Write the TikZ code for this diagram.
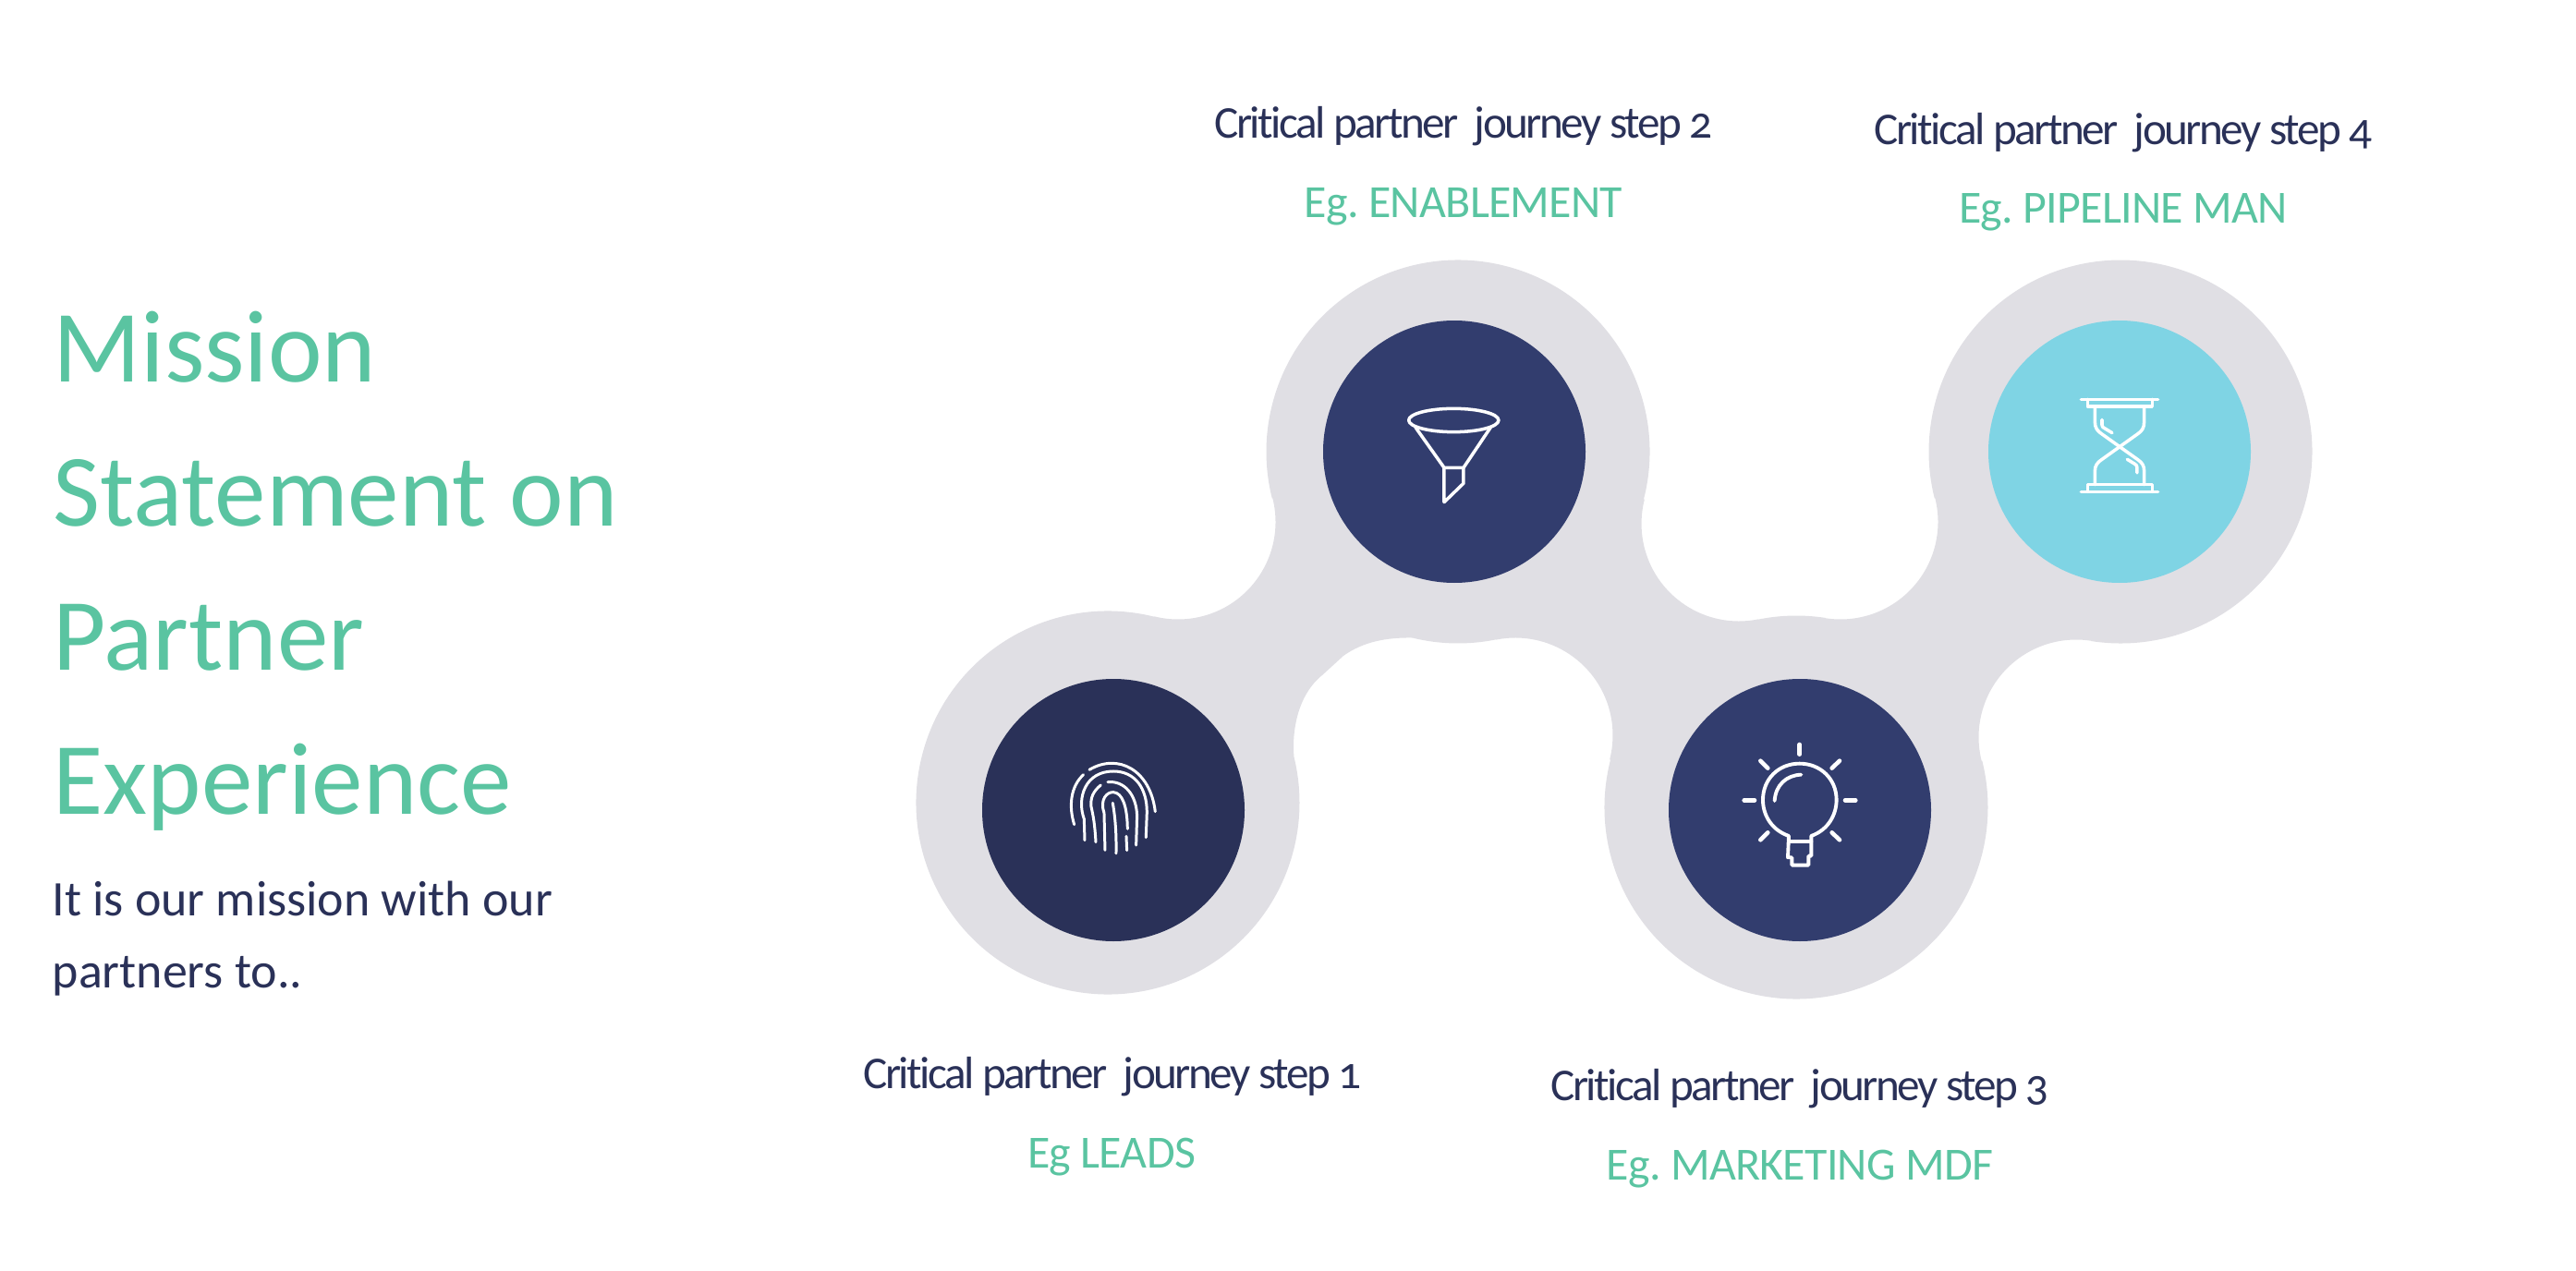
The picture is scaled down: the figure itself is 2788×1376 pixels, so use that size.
\documentclass[tikz,border=0pt]{standalone}
\usepackage{fontspec}
\setmainfont{Carlito}[Numbers=OldStyle,Ligatures=NoCommon]
\newfontfamily\headfont{Carlito}[Numbers=OldStyle,Ligatures=NoCommon,LetterSpace=-5.1]
\newfontfamily\egfont{Carlito}[Numbers=OldStyle,Ligatures=NoCommon,LetterSpace=-1.5]
\definecolor{blob}{HTML}{E0DFE4}
\definecolor{navyA}{HTML}{2A3158}
\definecolor{navyB}{HTML}{323D6E}
\definecolor{skyC}{HTML}{7FD4E4}
\definecolor{greenT}{HTML}{5AC4A1}
\definecolor{inkT}{HTML}{2A3158}
\newcommand{\seg}[4]{-- ([shift={(#2:#4)}]#1) arc[start angle=#2,end angle=#3,radius=#4]}
\tikzset{
  disc/.style={circle,minimum size=28.4mm,inner sep=0pt,draw=none},
  icon/.style={draw=white,line width=1pt,line cap=round,line join=round},
  icona/.style={icon,line width=0.85pt},
  iconb/.style={icon,line width=1.1pt},
  iconr/.style={icon,line width=1.3pt},
  iconscale/.style={x=0.03333mm,y=-0.03333mm},
  ttl/.style={anchor=base west,inner sep=0pt,text=greenT,font=\fontsize{31.6}{38}\selectfont},
  sub/.style={anchor=base west,inner sep=0pt,text=inkT,font=\fontsize{15.35}{19}\selectfont},
  head/.style={anchor=base,inner sep=0pt,text=inkT,font=\headfont\fontsize{14}{18}\selectfont},
  eg/.style={anchor=base,inner sep=0pt,text=greenT,font=\egfont\fontsize{14.2}{18}\selectfont},
}
\begin{document}
\frenchspacing
\begin{tikzpicture}[x=0.1mm,y=0.1mm]
\useasboundingbox (0,0) rectangle (2788,-1376);
\coordinate (c1) at (1199,-869);
\coordinate (c2) at (1578,-489);
\coordinate (c3) at (1944,-874);
\coordinate (c4) at (2295,-489);
\coordinate (fa) at (1275,-565);
\coordinate (fr) at (1640,-796);
\coordinate (fd) at (2247,-798);
\coordinate (fe) at (1992,-565);
\coordinate (ff) at (1882,-567);
\fill[blob] ([shift={(76:207.5)}]c1) arc[start angle=76,end angle=373.86,radius=207.5]
  .. controls (1398,-790) and (1405,-752) .. (1431,-731) -- (1454,-710)
  .. controls (1475,-695) and (1500,-690) .. (1528.4,-690.5)
  \seg{c2}{256.18}{281.4}{207.5}
  \seg{fr}{101.4}{-14.4}{105.5}
  \seg{c3}{165.6}{374.08}{207.5}
  \seg{fd}{194.08}{81.17}{105.5}
  \seg{c4}{261.17}{554.08}{207.5}
  \seg{fe}{14.08}{-98.83}{105.5}
  \seg{c3}{81.17}{101.42}{207.5}
  \seg{ff}{281.42}{165.6}{105.5}
  \seg{c2}{-14.4}{194.1}{207.5}
  \seg{fa}{14.1}{-104}{105.5}
  -- cycle;
\node[disc,fill=navyA] (d1) at (1205,-877) {};
\node[disc,fill=navyB] (d2) at (1574,-489) {};
\node[disc,fill=navyB] (d3) at (1948,-877) {};
\node[disc,fill=skyC] (d4) at (2294,-489) {};

% fingerprint: crop origin (1100,780), scale 3
\begin{scope}[shift={(1100,-780)},iconscale]
\draw[icona] (188,338) .. controls (170,280) and (175,215) .. (218,176);
\draw[icona] (237,160) .. controls (330,105) and (435,160) .. (451,296);
\draw[icona] (222,389) -- (220,320) .. controls (195,250) and (225,165) .. (315,165) .. controls (385,165) and (425,220) .. (424,300) -- (421,380);
\draw[icona] (258,395) .. controls (255,340) and (250,310) .. (243,280) .. controls (240,250) and (250,230) .. (274,210);
\draw[icona] (297,200) .. controls (350,195) and (390,240) .. (392,310) -- (389,405);
\draw[icona] (288,421) -- (285,300) .. controls (270,255) and (295,232) .. (315,233) .. controls (345,235) and (360,280) .. (361,352);
\draw[icona] (313,268) .. controls (322,320) and (325,370) .. (324,432);
\draw[icona] (357,376) -- (359,422);
\end{scope}

% funnel: crop origin (1470,400)
\begin{scope}[shift={(1470,-400)},iconscale]
\draw[icon] (310,165) ellipse [x radius=146,y radius=38];
\draw[icon] (186,188) -- (279,319) -- (342,319) -- (430,188);
\draw[icon] (279,319) -- (279,431) -- (342,370) -- (342,319);
\end{scope}

% bulb: crop origin (1850,780)
\begin{scope}[shift={(1850,-780)},iconscale]
\draw[iconb] (258,375) .. controls (200,355) and (174,305) .. (174,258) .. controls (174,190) and (225,140) .. (293,140) .. controls (361,140) and (413,190) .. (413,258) .. controls (413,305) and (387,355) .. (331,375)
  -- (331,440) -- (322,440) -- (322,470) -- (268,470) -- (268,445) -- (255,445) -- cycle;
\draw[iconb] (258,392) -- (331,392);
\draw[iconb] (212,261) .. controls (215,210) and (250,178) .. (298,176);
\draw[iconr] (293,78) -- (293,110);
\draw[iconr] (113,259) -- (147,259);
\draw[iconr] (441,259) -- (475,259);
\draw[iconr] (166,131) -- (190,155);
\draw[iconr] (423,131) -- (398,155);
\draw[iconr] (166,388) -- (190,364);
\draw[iconr] (423,388) -- (398,364);
\end{scope}

% hourglass: crop origin (2190,400)
\begin{scope}[shift={(2190,-400)},iconscale]
\draw[icon] (187,97) -- (437,97);
\draw[icon] (187,397) -- (437,397);
\draw[icon] (208,97) -- (208,120) -- (418,120) -- (418,97);
\draw[icon] (208,397) -- (208,374) -- (418,374) -- (418,397);
\draw[icon] (232,120) -- (232,170) .. controls (232,190) and (240,200) .. (255,210) -- (370,292) .. controls (385,302) and (392,312) .. (392,330) -- (392,374);
\draw[icon] (392,120) -- (392,170) .. controls (392,190) and (385,200) .. (370,210) -- (255,292) .. controls (240,302) and (232,312) .. (232,330) -- (232,374);
\draw[icon] (255,163) -- (255,180) .. controls (255,187) and (258,188) .. (265,192) -- (288,206);
\draw[icon] (337,292) -- (360,306) .. controls (367,310) and (369,312) .. (369,320) -- (369,336);
\end{scope}

\node[ttl] (t1) at (57,-413) {Mission};
\node[ttl] (t2) at (57,-569) {Statement on};
\node[ttl] (t3) at (57,-725) {Partner};
\node[ttl] (t4) at (57,-881) {Experience};
\node[sub] (s1) at (56,-991.5) {It is our mission with our};
\node[sub] (s2) at (56,-1069.5) {partners to..};
\node[head] (h2) at (1584,-149.5) {Critical partner\ \ journey step 2};
\node[eg] (e2) at (1584,-235.5) {Eg. ENABLEMENT};
\node[head] (h4) at (2298,-156.5) {Critical partner\ \ journey step 4};
\node[eg] (e4) at (2298,-241) {Eg. PIPELINE MAN};
\node[head] (h1) at (1204,-1178.5) {Critical partner\ \ journey step 1};
\node[eg] (e1) at (1203,-1264.5) {Eg LEADS};
\node[head] (h3) at (1948,-1191.5) {Critical partner\ \ journey step 3};
\node[eg] (e3) at (1948,-1277.5) {Eg. MARKETING MDF};
\end{tikzpicture}
\end{document}
